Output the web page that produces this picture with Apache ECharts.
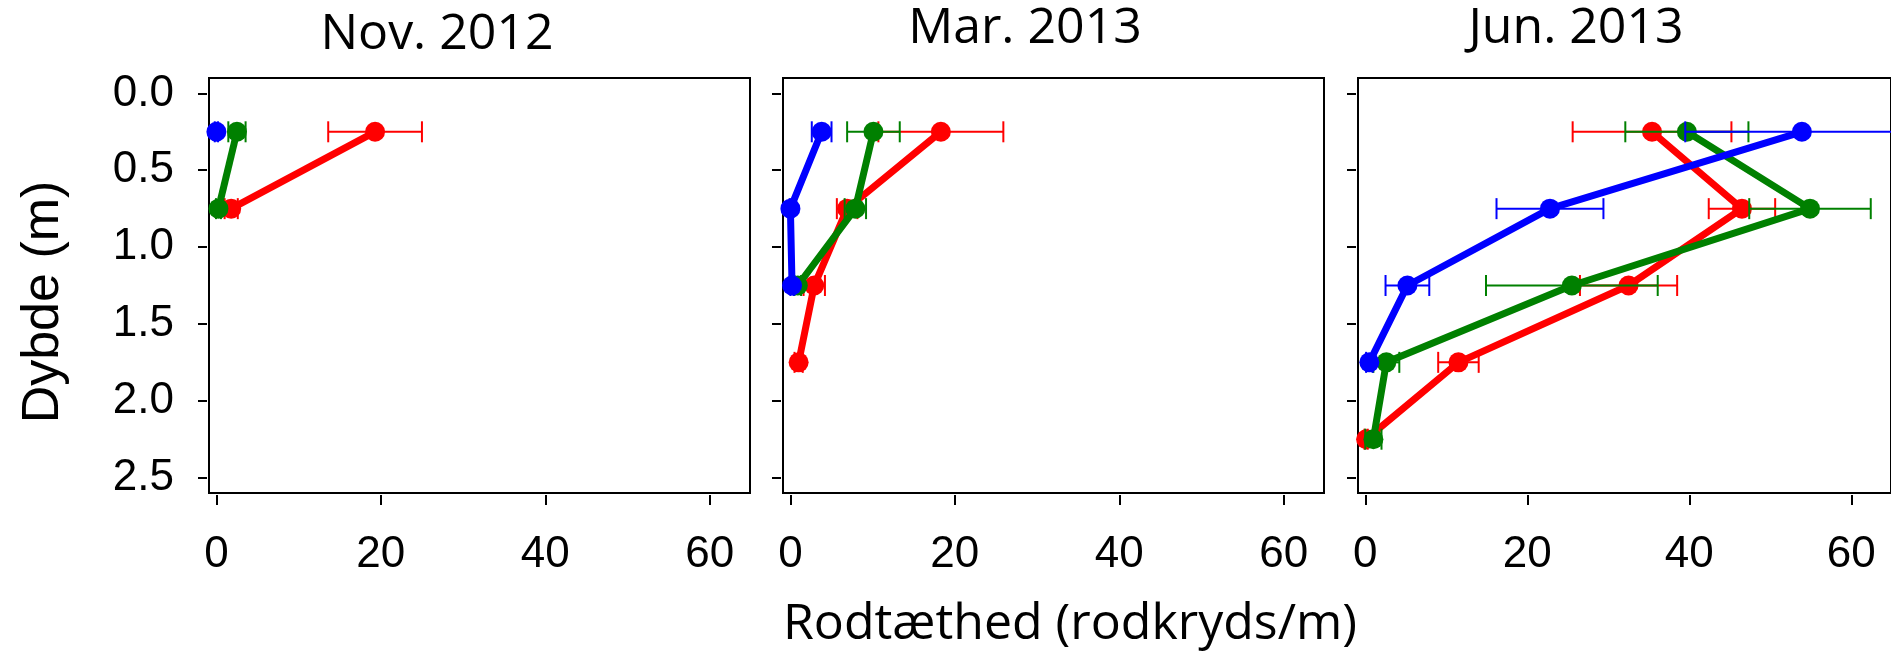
<!DOCTYPE html>
<html>
<head>
<meta charset="utf-8">
<script src="https://cdn.jsdelivr.net/npm/echarts@6/dist/echarts.min.js"></script>
<style>
  html, body { margin: 0; padding: 0; background: #fff; }
  #chart { width: 1891px; height: 653px; }
</style>
</head>
<body>
<div id="chart"></div>
<script>
// Root density profiles by depth, three sampling dates, three treatments
const depths = [0.25, 0.75, 1.25, 1.75, 2.25];
const panelTitles = ['Nov. 2012', 'Mar. 2013', 'Jun. 2013'];
const xTicks = [0, 20, 40, 60];
const yTicks = [0.0, 0.5, 1.0, 1.5, 2.0, 2.5];
const yAxisTitle = 'Dybde (m)';
const xAxisTitle = 'Rodtæthed (rodkryds/m)';

// mean values per panel (Nov, Mar, Jun), one entry per depth
const redMean   = [[19.3, 1.8, null, null, null], [18.3, 6.9, 2.9, 1.0, null], [35.4, 46.5, 32.5, 11.5, 0.1]];
const redErr    = [[5.7, 0.8, null, null, null],  [7.6, 1.25, 1.3, 0.5, null], [9.8, 4.1, 6.0, 2.5, 0.2]];
const greenMean = [[2.5, 0.25, null, null, null], [10.1, 7.9, 0.9, null, null], [39.7, 54.9, 25.5, 2.6, 1.0]];
const greenErr  = [[1.05, 0.3, null, null, null], [3.2, 1.3, 0.4, null, null],  [7.6, 7.5, 10.6, 1.6, 1.0]];
const blueMean  = [[0.0, null, null, null, null], [3.8, 0.0, 0.2, null, null],  [53.9, 22.8, 5.2, 0.5, null]];
const blueErr   = [[0.2, null, null, null, null], [1.2, 0.1, 0.2, null, null],  [14.4, 6.6, 2.7, 0.4, null]];

const colors = { red: '#ff0000', green: '#008000', blue: '#0000ff' };
const gridLefts = [209, 783, 1358];
const gridTop = 78, gridWidth = 541, gridHeight = 415;
const tickFont = 'Liberation Sans, Arial, sans-serif';
const titleFont = 'Open Sans, Noto Sans, sans-serif';

function pairs(means) {
  const out = [];
  means.forEach((v, i) => { if (v !== null) out.push([v, depths[i]]); });
  return out;
}
function errTriples(means, errs) {
  const out = [];
  means.forEach((v, i) => { if (v !== null) out.push([v, errs[i], depths[i]]); });
  return out;
}

function errorBarRender(color) {
  return function (params, api) {
    const v = api.value(0), e = api.value(1), d = api.value(2);
    const l = api.coord([v - e, d]);
    const r = api.coord([v + e, d]);
    const cap = 10.5;
    const style = { stroke: color, lineWidth: 2 };
    return {
      type: 'group',
      children: [
        { type: 'line', shape: { x1: l[0], y1: l[1], x2: r[0], y2: r[1] }, style },
        { type: 'line', shape: { x1: l[0], y1: l[1] - cap, x2: l[0], y2: l[1] + cap }, style },
        { type: 'line', shape: { x1: r[0], y1: r[1] - cap, x2: r[0], y2: r[1] + cap }, style }
      ]
    };
  };
}

const grids = [], xAxes = [], yAxes = [], series = [];
for (let p = 0; p < 3; p++) {
  grids.push({
    left: gridLefts[p], top: gridTop, width: gridWidth, height: gridHeight,
    show: true, borderColor: '#000', borderWidth: 2, backgroundColor: 'transparent'
  });
  xAxes.push({
    type: 'value', gridIndex: p, position: 'bottom', min: -0.9, max: 64.9, offset: 2,
    axisLine: { show: false, onZero: false }, splitLine: { show: false },
    axisTick: { show: true, inside: false, customValues: xTicks, length: 10, lineStyle: { color: '#000', width: 2 } },
    axisLabel: { customValues: xTicks, fontSize: 44, fontFamily: tickFont, color: '#000', margin: 38 }
  });
  yAxes.push({
    type: 'value', gridIndex: p, position: 'left', inverse: true, min: -0.1, max: 2.6, offset: 2,
    axisLine: { show: false, onZero: false }, splitLine: { show: false },
    axisTick: { show: true, inside: false, customValues: yTicks, length: 9, lineStyle: { color: '#000', width: 2 } },
    axisLabel: {
      show: p === 0, customValues: yTicks, fontSize: 44, fontFamily: tickFont, color: '#000', margin: 33,
      formatter: v => Number(v).toFixed(1)
    }
  });

  const groups = [
    ['red', redMean[p], redErr[p]],
    ['green', greenMean[p], greenErr[p]],
    ['blue', blueMean[p], blueErr[p]]
  ];
  groups.forEach((g, k) => {
    const c = colors[g[0]];
    series.push({
      type: 'custom', xAxisIndex: p, yAxisIndex: p, z: 3 + k * 2,
      renderItem: errorBarRender(c),
      encode: { x: [0], y: [2] },
      data: errTriples(g[1], g[2]),
      clip: false, silent: true
    });
    series.push({
      type: 'line', xAxisIndex: p, yAxisIndex: p, z: 4 + k * 2,
      data: pairs(g[1]),
      symbol: 'circle', symbolSize: 20, showSymbol: true,
      itemStyle: { color: c },
      lineStyle: { color: c, width: 7 },
      clip: false, silent: true
    });
  });
}

const titleCenters = [[437, 35], [1025, 28.5], [1576, 28.5]];
const graphics = panelTitles.map((t, i) => ({
  type: 'text', x: titleCenters[i][0], y: titleCenters[i][1],
  style: { text: t, font: '50px ' + titleFont, fill: '#000', align: 'center', verticalAlign: 'middle' }
}));
graphics.push({
  type: 'text', x: 44, y: 302, rotation: Math.PI / 2,
  style: { text: yAxisTitle, font: '52px ' + tickFont, fill: '#000', align: 'center', verticalAlign: 'middle' }
});
graphics.push({
  type: 'text', x: 1070, y: 625,
  style: { text: xAxisTitle, font: '50px ' + titleFont, fill: '#000', align: 'center', verticalAlign: 'middle' }
});

const chart = echarts.init(document.getElementById('chart'), null, { renderer: 'canvas' });
chart.setOption({
  animation: false,
  backgroundColor: '#fff',
  grid: grids,
  xAxis: xAxes,
  yAxis: yAxes,
  series: series,
  graphic: graphics
});
</script>
</body>
</html>
